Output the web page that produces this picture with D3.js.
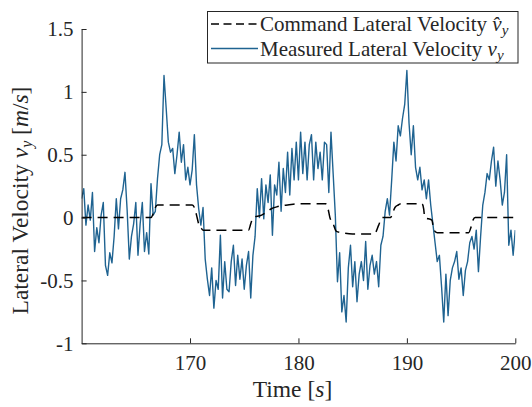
<!DOCTYPE html>
<html><head><meta charset="utf-8">
<script src="https://cdn.jsdelivr.net/npm/d3@7"></script>
<style>
html,body{margin:0;padding:0;background:#fff;}
svg{display:block;}
</style></head>
<body>
<svg id="chart" width="532" height="407"></svg>
<script>
// ---------- data ----------
const tStart = 160, tStep = 0.2;
const measured = [
 0.15,0.23,-0.06,0.10,-0.02,0.20,-0.27,-0.08,-0.20,0.02,
 0.12,-0.38,-0.46,-0.28,-0.36,-0.15,0.15,-0.09,0.15,0.22,
 0.36,0.06,-0.33,-0.15,-0.05,0.12,-0.30,-0.05,0.12,-0.27,
 -0.12,-0.29,0.27,0.02,0.05,0.31,0.50,0.58,1.13,0.87,
 0.60,0.52,0.55,0.35,0.50,0.68,0.44,0.58,0.30,0.40,
 0.26,0.38,0.66,0.26,0.07,-0.06,0.08,-0.33,-0.49,-0.62,
 -0.40,-0.72,-0.50,-0.57,-0.14,-0.64,-0.35,-0.57,-0.59,-0.35,
 -0.22,-0.54,-0.30,-0.49,-0.33,-0.57,-0.38,-0.27,-0.64,-0.30,
 -0.15,0.23,0.00,0.31,-0.01,0.26,0.12,0.34,-0.14,0.26,
 0.18,0.44,0.05,0.39,0.20,0.52,0.18,0.55,0.30,0.60,
 0.30,0.68,0.35,0.60,0.30,0.58,0.66,0.30,0.60,0.39,
 0.52,0.30,0.60,0.58,0.20,0.68,0.35,0.02,-0.51,-0.28,
 -0.75,-0.62,-0.83,-0.40,-0.22,-0.55,-0.35,-0.67,-0.45,-0.35,
 -0.50,-0.19,-0.57,-0.38,-0.30,-0.45,-0.35,-0.55,-0.22,-0.15,
 0.05,0.15,0.02,0.30,0.60,0.45,0.73,0.65,0.79,0.90,
 1.17,0.75,0.50,0.73,0.40,0.30,0.40,0.22,0.30,0.15,
 0.30,0.10,-0.05,-0.20,-0.35,-0.30,-0.55,-0.83,-0.45,-0.78,
 -0.50,-0.40,-0.35,-0.27,-0.49,-0.40,-0.62,-0.42,-0.35,-0.20,
 -0.15,-0.25,-0.10,-0.43,-0.15,0.10,0.20,0.35,0.30,0.45,
 0.56,0.25,0.45,0.30,0.10,0.20,0.50,-0.22,-0.10,-0.30,
 -0.10
];
const cmdTime  = [160,166.4,166.6,166.8,167.0,170.2,170.4,170.6,170.8,171.0,171.2,175.4,175.6,175.8,176.6,177.0,177.5,178.0,178.5,179.0,180.0,182.5,182.7,182.9,183.2,183.5,184.0,185.0,187.0,187.4,187.7,188.5,188.7,188.9,189.2,189.5,191.4,191.55,191.65,192.3,192.5,192.8,195.7,195.9,196.1,196.3,200];
const cmdValue = [0,0,0.03,0.08,0.10,0.10,0.08,0.02,-0.05,-0.08,-0.10,-0.10,-0.05,0,0.02,0.04,0.07,0.085,0.095,0.10,0.11,0.11,0.08,0.0,-0.05,-0.11,-0.12,-0.13,-0.13,-0.06,0,0,0.04,0.08,0.10,0.11,0.11,0.07,0.0,-0.02,-0.10,-0.12,-0.12,-0.08,-0.02,0,0];
const xTicks = [170,180,190,200];
const yTicks = [-1,-0.5,0,0.5,1,1.5];
const yTickLabels = ["-1","-0.5","0","0.5","1","1.5"];
const legendLabels = ["Command Lateral Velocity ", "Measured Lateral Velocity "];

// ---------- drawing ----------
const FONT = "Liberation Serif";
const svg = d3.select("#chart");
const L = 81.6, R = 515.3, T = 29, B = 343.3;
const x = d3.scaleLinear().domain([160,200]).range([L,R]);
const y = d3.scaleLinear().domain([-1,1.5]).range([B,T]);
const blue = "#1f6391";
const axisCol = "#262626";

svg.append("defs").append("clipPath").attr("id","clip")
  .append("rect").attr("x",L).attr("y",T).attr("width",R-L).attr("height",B-T);

const measPts = measured.map((v,i)=>[tStart + i*tStep, v]);
const line = d3.line().x(d=>x(d[0])).y(d=>y(d[1]));

svg.append("path").datum(measPts).attr("clip-path","url(#clip)")
  .attr("d",line).attr("fill","none").attr("stroke",blue)
  .attr("stroke-width",1.4).attr("stroke-linejoin","round");

const cmdPts = cmdTime.map((t,i)=>[t,cmdValue[i]]);
svg.append("path").datum(cmdPts).attr("clip-path","url(#clip)")
  .attr("d",d3.line().x(d=>x(d[0])).y(d=>y(d[1])).curve(d3.curveMonotoneX))
  .attr("fill","none").attr("stroke","#000").attr("stroke-width",1.5)
  .attr("stroke-dasharray","10,6");

// axes
const xAxis = d3.axisBottom(x).tickValues(xTicks).tickSizeInner(-5).tickSizeOuter(0).tickPadding(12).tickFormat(d3.format("d"));
const gx = svg.append("g").attr("transform",`translate(0,${B})`).call(xAxis);
const yAxis = d3.axisLeft(y).tickValues(yTicks).tickSizeInner(-5).tickSizeOuter(0).tickPadding(8)
  .tickFormat((d,i)=>yTickLabels[i]);
const gy = svg.append("g").attr("transform",`translate(${L},0)`).call(yAxis);
[gx,gy].forEach(g=>{
  g.attr("font-family",FONT).attr("font-size",21);
  g.select(".domain").attr("stroke",axisCol).attr("stroke-width",1);
  g.selectAll(".tick line").attr("stroke",axisCol).attr("stroke-width",1);
  g.selectAll(".tick text").attr("fill",axisCol).attr("font-family",FONT).attr("font-size",21);
});

// axis labels
const xl = svg.append("text").attr("x",292.5).attr("y",397).attr("text-anchor","middle")
  .attr("font-family",FONT).attr("font-size",23.5).attr("fill",axisCol);
xl.append("tspan").text("Time [");
xl.append("tspan").attr("font-style","italic").text("s");
xl.append("tspan").text("]");

const yl = svg.append("text").attr("transform","translate(28,200.5) rotate(-90)").attr("text-anchor","middle")
  .attr("font-family",FONT).attr("font-size",23.5).attr("fill",axisCol);
yl.append("tspan").text("Lateral Velocity ");
yl.append("tspan").attr("font-style","italic").text("v");
yl.append("tspan").attr("font-style","italic").attr("font-size",16).attr("dy",4).text("y");
yl.append("tspan").attr("dy",-4).text(" [");
yl.append("tspan").attr("font-style","italic").text("m");
yl.append("tspan").text("/");
yl.append("tspan").attr("font-style","italic").text("s");
yl.append("tspan").text("]");

// legend
const lg = svg.append("g");
lg.append("rect").attr("x",207.5).attr("y",11.5).attr("width",310.5).attr("height",51.5)
  .attr("fill","#fff").attr("stroke",axisCol).attr("stroke-width",1);
const rows = [24, 48.5];
lg.append("line").attr("x1",211).attr("x2",258).attr("y1",rows[0]).attr("y2",rows[0])
  .attr("stroke","#000").attr("stroke-width",1.5).attr("stroke-dasharray","8,4.5");
lg.append("line").attr("x1",211).attr("x2",258).attr("y1",rows[1]).attr("y2",rows[1])
  .attr("stroke",blue).attr("stroke-width",1.5);
legendLabels.forEach((lab,i)=>{
  const t = lg.append("text").attr("x",260).attr("y",rows[i]+7)
    .attr("font-family",FONT).attr("font-size",21).attr("fill",axisCol);
  t.append("tspan").text(lab);
  t.append("tspan").attr("font-style","italic").text(i===0 ? "v\u0302" : "v");
  t.append("tspan").attr("font-style","italic").attr("font-size",15).attr("dy",4).text("y");
});
</script>
</body></html>
